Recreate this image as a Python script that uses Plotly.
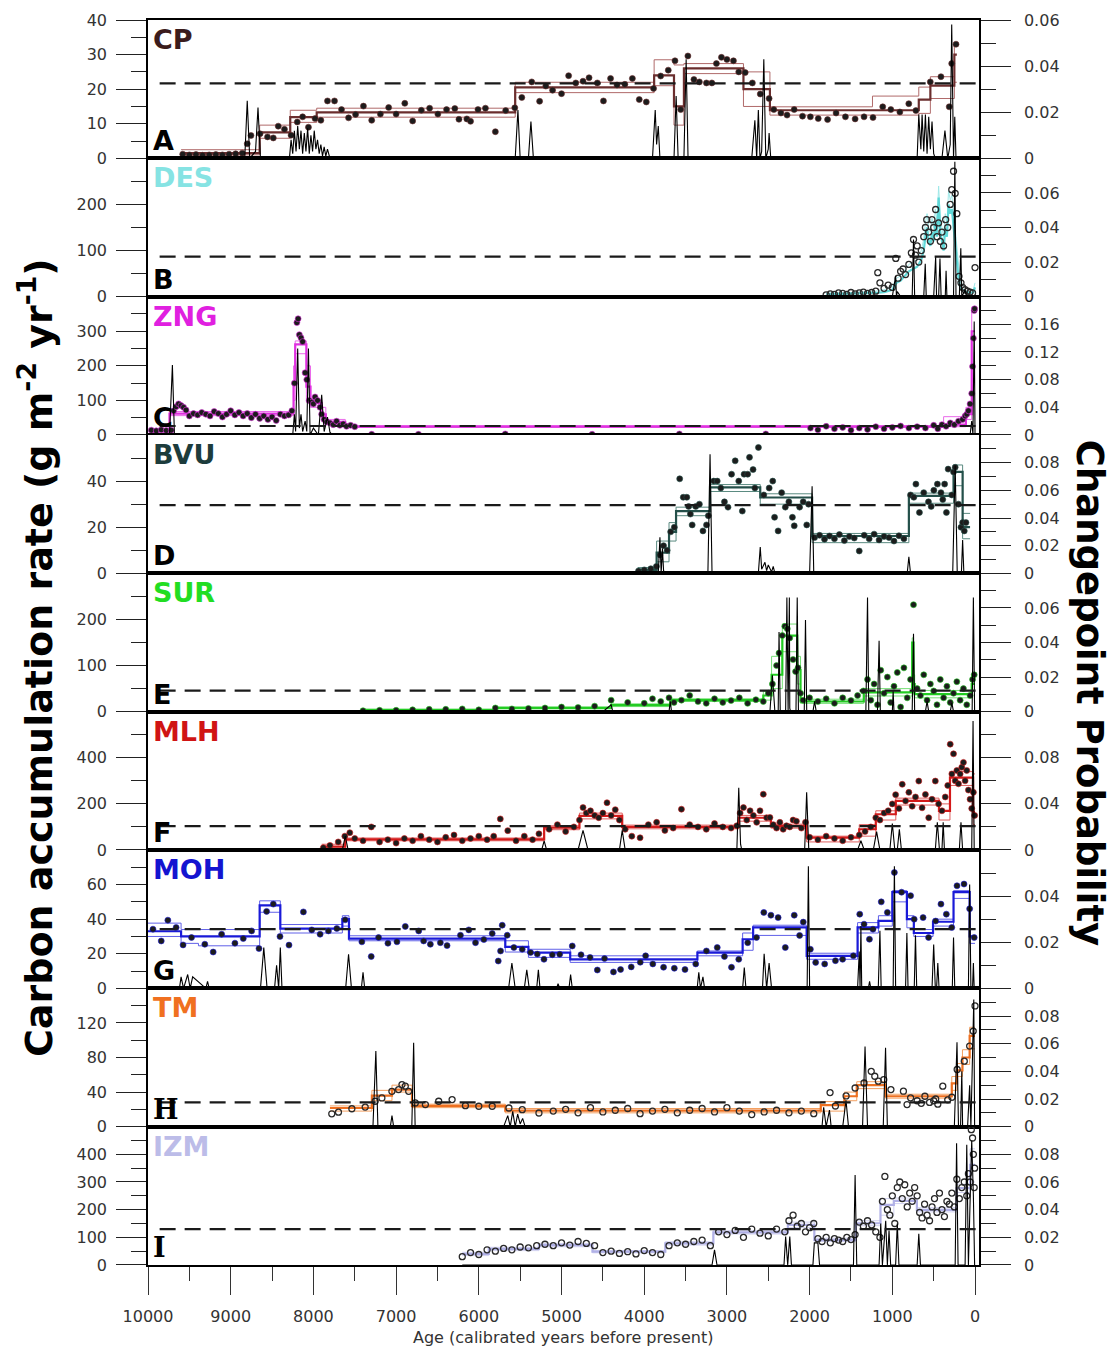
import plotly.graph_objects as go
from plotly.subplots import make_subplots

# ---------------- CP (A) ----------------
CP_age = [9580,9500,9420,9340,9260,9180,9100,9020,8940,8860,8800,8755,8645,8555,8485,8425,8350,8270,8195,8130,8060,7980,7910,7830,7745,7660,7575,7490,7395,7295,7190,7090,7000,6895,6800,6695,6595,6495,6390,6290,6240,6145,6100,6010,5920,5800,5675,5565,5480,5360,5265,5190,
          5108,5000,4914,4827,4740,4667,4567,4493,4407,4329,4234,4143,4060,3975,3887,3801,3709,3628,3559,3472,3399,3333,3248,3182,3127,3066,3000,2921,2857,2779,2692,2597,2490,2433,2347,2273,2187,2086,1991,1896,1783,1680,1567,1450,1342,1234,1116,1018,909,801,715,541,412,312,282,230]
CP_val = [1.2,1.0,1.1,0.9,1.0,1.1,1.0,1.2,1.3,1.5,4.2,6.6,7.1,6.2,5.9,9.3,8.4,6.7,10.5,12.0,9.0,11.5,11.0,16.6,16.6,14.1,11.7,12.7,15.1,11.0,12.8,14.7,12.8,15.9,10.8,13.9,14.5,12.8,14.1,14.4,11.3,11.4,10.7,14.1,14.5,7.7,13.8,14.6,17.6,22.1,16.5,20.9,
          19.7,18.7,23.9,21.8,22.3,23.3,21.8,16.6,23.1,21.2,21.4,23.1,17.0,16.3,20.2,23.8,25.5,28.2,14.1,29.6,22.8,22.1,21.8,21.8,27.4,29.2,28.6,28.2,25.0,24.8,21.8,18.6,17.3,14.1,13.1,12.5,14.1,12.2,12.0,11.5,11.2,13.1,12.0,11.4,12.0,11.8,14.9,14.1,13.4,15.8,13.8,22.1,23.6,14.9,27.4,33.0]
CP_cp = [9600,8650,8280,7960,5560,3880,3640,3520,2800,2480,1240,680,540,250,220]
CP_med = [1.5,7.5,11.9,13.3,20.5,24.0,15.0,26.0,20.0,13.9,13.9,17.0,21.0,30.0]
CP_lo = [1.0,5.8,10.4,11.9,19.0,21.0,9.6,24.5,15.0,12.5,12.5,13.0,17.3,22.0]
CP_hi = [2.5,9.6,13.9,14.5,22.0,28.5,27.0,27.4,25.0,14.9,18.0,20.6,23.6,33.0]
CP_prob_age = [9600,8830,8800,8770,8700,8670,8640,8290,8270,8250,8230,8210,8190,8170,8150,8130,8110,8090,8070,8050,8030,8010,7990,7970,7950,7930,7910,7890,7870,7850,7830,7800,
               5560,5527,5500,5400,5370,5340,3900,3867,3850,3830,3810,3640,3614,3590,3520,3493,3470,2700,2662,2640,2620,2600,2580,2554,2530,2500,2490,2470,
               700,680,655,640,620,600,580,560,540,520,500,480,400,364,330,300,282,260,245,230]
CP_prob = [0,0,0.025,0,0.003,0.022,0,0,0.008,0.002,0.012,0.003,0.014,0.004,0.012,0.002,0.011,0.003,0.013,0.002,0.010,0.003,0.012,0.004,0.008,0.002,0.006,0.001,0.005,0.001,0.004,0,
           0,0.021,0,0,0.016,0,0,0.021,0.006,0.014,0,0,0.027,0,0,0.043,0,0,0.0165,0,0.021,0,0.003,0.043,0,0.004,0.011,0,
           0,0.019,0.004,0.019,0.003,0.019,0.002,0.018,0.004,0.016,0.002,0,0,0.012,0,0.006,0.058,0,0.018,0]
CP_mean = 21.7

# ---------------- DES (B) ----------------
DES_age = [1800,1750,1700,1650,1600,1550,1500,1450,1400,1350,1300,1250,1200,1176,1150,1100,1050,1000,958,930,900,870,840,800,770,744,720,700,680,650,
           620,600,584,560,540,520,500,476,460,441,420,400,380,355,330,300,281,260,240,220,194,170,150,120,90,60,30,0]
DES_val = [4,6,5,8,7,5,9,6,8,10,7,9,12,52,30,18,25,20,83,40,55,60,48,70,95,124,90,110,75,100,
           130,150,167,140,120,167,150,189,130,160,120,140,110,167,150,200,232,272,224,180,44,30,20,15,12,10,8,63]
DES_line_age = [1800,1500,1200,1100,1000,950,900,850,800,750,700,650,620,600,580,560,540,520,500,480,460,440,420,400,380,360,340,320,300,280,260,240,220,200,180,150,100,50,20,0]
DES_line = [5,6,8,10,15,30,35,45,55,60,65,80,100,130,150,120,110,140,120,160,130,215,140,120,100,150,130,200,180,190,150,110,80,40,20,15,10,8,10,20]
DES_line_hi = [8,9,12,15,22,40,45,58,70,75,80,100,125,160,180,150,140,170,150,190,160,240,170,150,130,180,160,230,210,220,180,140,110,60,35,25,18,14,16,30]
DES_prob_age = [1800,1000,960,950,940,900,760,744,730,620,602,590,500,476,465,440,424,410,360,350,340,260,244,230,190,172,160,120,100,60]
DES_prob = [0,0,0.012,0,0.003,0,0,0.033,0,0,0.019,0,0,0.023,0,0,0.022,0,0,0.015,0,0,0.078,0,0,0.028,0,0.004,0,0]
DES_mean = 87

# ---------------- ZNG (C) ----------------
ZNG_age = [9960,9900,9840,9780,9720,9690,9660,9630,9600,9570,9540,9500,9450,9400,9350,9300,9250,9200,9150,9100,9050,9000,8950,8900,8850,
           8800,8750,8700,8650,8600,8550,8500,8450,8400,8350,8300,8260,8230,8200,8185,8170,8150,8130,8100,8080,8050,8020,8000,7980,7950,7920,7900,7870,7840,7800,
           7760,7720,7680,7640,7600,7550,7500,7295,6730,5680,4630,3575,2530,1990,1900,1800,1700,1600,1500,1400,1300,1200,1100,1000,900,800,700,600,500,450,
           400,350,300,250,200,150,120,100,80,60,40,30,20,10,5]
ZNG_val = [14,12,15,13,14,70,82,90,85,80,72,55,62,58,65,60,55,68,62,52,60,70,58,65,55,
           62,50,60,48,55,45,52,42,60,55,58,70,150,325,336,290,281,270,180,160,100,95,90,110,100,80,60,45,38,35,
           30,40,28,32,25,28,24,2,2,3,2,3,3,20,15,25,18,22,14,20,16,24,18,22,26,20,24,20,28,18,
           30,25,35,30,40,45,55,60,70,90,120,198,280,360,365]
ZNG_cp = [9980,9740,8240,8220,8085,8035,7900,7850,7615,380,110,40,0]
ZNG_med = [12,62,150,262,140,92,60,38,24,30,60,300]
ZNG_lo = [8,56,100,235,95,80,40,32,22,24,45,200]
ZNG_hi = [16,68,200,272,200,100,80,45,27,53,80,370]
ZNG_prob_age = [9980,9740,9705,9680,8250,8230,8215,8190,8170,8150,8130,8100,8080,8060,8040,8000,7940,7900,7870,7830,7800,7770,7600,60,40,25,10,0]
ZNG_prob = [0,0,0.101,0,0,0.03,0.005,0.125,0.01,0.03,0.005,0.02,0.005,0.125,0,0.01,0,0.058,0.005,0.026,0.004,0,0,0,0.02,0,0.164,0]
ZNG_mean = 26

# ---------------- BVU (D) ----------------
BVU_age = [4069,4000,3920,3853,3810,3766,3723,3680,3636,3571,3528,3485,3463,3442,3420,3377,3333,3290,3247,3225,
           3160,3117,3074,3030,2987,2944,2900,2857,2814,2792,2749,2727,2684,2662,2619,2554,2489,2446,2424,2381,
           2338,2294,2251,2208,2186,2121,2078,2035,2013,1940,1880,1820,1760,1700,1640,1580,1520,1460,1400,1340,
           1280,1220,1160,1100,1040,980,920,860,780,740,715,672,620,563,530,498,455,412,390,368,
           346,325,281,260,240,200,170,150,130,110]
BVU_val = [1,1.5,2,3,8,12,10,18,20,41,33,33,29,25.7,21,29,30,18.4,21,25,
           40,40,37,31,28.7,43,48.8,40,27,43,43,50.3,45,37,54.6,34,37,40,24.3,18.4,
           35,28.7,31,24.3,20.6,28.7,31,21,30,15.5,16.5,14.8,16.2,15,16.8,14.2,16,15.3,9.7,16.5,
           15,17,14.5,16,15.5,14,16.3,15,34,33,38.7,26.4,35,31,29,36,38.7,35,32,38.7,
           26.4,45.2,34,44,46,30,20,22,18.4,22]
BVU_cp = [4080,3850,3700,3615,3204,2597,1970,800,260,150,60]
BVU_med = [1.5,9,18,27,37.3,32.9,16.2,33.6,44,20]
BVU_lo = [0.8,5,14,25,35.5,30,13.3,30.4,38,15]
BVU_hi = [2.5,14,22,28.7,38.5,34.5,17.3,34.8,47,26]
BVU_prob_age = [4080,3830,3810,3795,3780,3766,3750,3230,3204,3180,2620,2597,2580,2540,2520,2500,2460,2440,2420,2000,
                1970,1950,820,800,780,270,240,215,165,150,135,60]
BVU_prob = [0,0,0.026,0,0.018,0.002,0,0,0.086,0,0,0.019,0.003,0.008,0.002,0.006,0.001,0.005,0,0,
            0.063,0,0,0.012,0,0,0.078,0,0,0.024,0,0]
BVU_mean = 29.6

# ---------------- SUR (E) ----------------
SUR_age = [7400,7200,7000,6800,6600,6400,6200,6000,5800,5600,5400,5200,
           5000,4800,4600,4400,4200,4000,3900,3800,3700,3640,
           3550,3450,3350,3250,3150,3050,2950,2850,2750,2650,
           2560,2500,2450,2400,2370,2330,2300,2270,2240,2200,
           2170,2140,2110,2080,2000,1900,1800,1700,1600,1500,
           1420,1350,1300,1260,1220,1180,1140,1100,1060,1020,
           980,940,900,860,820,780,744,700,660,620,
           580,540,500,460,420,380,340,300,260,220,
           180,140,100,60,30,10]
SUR_val = [2,3,3,4,5,5,6,4,8,6,7,8,
           10,9,12,25,20,18,28,22,30,20,
           25,35,22,18,28,20,24,30,18,26,
           22,40,60,100,127,165,185,180,160,113,
           87,95,40,25,30,22,28,18,30,24,
           35,45,70,25,60,15,90,40,75,20,
           55,85,10,95,30,70,232,50,35,80,
           25,60,45,15,70,30,55,20,40,65,
           25,50,15,35,70,80]
SUR_cp = [7420,5800,4400,3685,2560,2460,2330,2150,2110,1345,760,744,730,40,0]
SUR_med = [4,8,14,25,35,80,165,90,22,42,150,60,38,60]
SUR_lo = [3,6,11,22,25,50,130,60,18,34,60,40,30,45]
SUR_hi = [5,10,17,28,45,120,190,120,27,50,160,80,46,80]
SUR_prob_age = [7400,4500,4400,4380,3700,3685,3670,2480,2450,2420,2380,2370,2355,2290,2275,2260,2245,2240,2230,2165,
                2150,2135,2065,2050,2035,1960,1940,1920,1320,1300,1285,1180,1160,1145,1000,990,980,760,744,730,
                600,580,560,300,280,260,35,20,5]
SUR_prob = [0,0,0.004,0,0,0.006,0,0,0.021,0,0,0.046,0,0,0.066,0,0.066,0.002,0,0,
            0.066,0,0,0.053,0,0,0.006,0,0,0.066,0,0,0.041,0,0,0.012,0,0,0.045,0,
            0,0.006,0,0,0.005,0,0,0.066,0]
SUR_mean = 45.6

# ---------------- MLH (F) ----------------
MLH_age = [7880,7800,7700,7620,7560,7500,7400,7300,7200,7100,7000,6900,6800,6700,6600,6500,6400,6300,6200,6100,
           6000,5900,5820,5740,5650,5550,5450,5350,5273,
           5150,5050,4950,4850,4783,4740,4700,4650,4600,4550,4500,4450,4400,4350,4300,
           4230,4150,4050,3950,3850,3750,3650,3550,3450,3350,3250,3150,3050,2950,2880,
           2840,2800,2760,2720,2680,2640,2600,2560,2520,2480,
           2440,2400,2360,2320,2280,2240,2200,2160,2100,2050,
           2000,1900,1800,1700,1600,1500,1400,1330,1260,1200,1150,1100,
           1050,1000,960,920,880,840,800,760,720,680,640,600,560,520,480,440,400,
           360,330,300,280,260,240,220,200,180,160,140,120,100,80,60,40,20,5]
MLH_val = [10,20,35,60,75,50,40,100,35,45,30,50,40,60,45,35,55,65,40,50,
           60,45,60,135,84,40,60,45,70,
           90,110,80,100,130,184,160,170,150,140,160,205,150,175,130,
           90,60,53,110,120,85,95,177,110,100,90,115,100,95,105,
           160,184,130,170,150,120,170,242,140,141,
           110,95,120,90,105,100,130,125,95,120,
           55,45,60,50,40,55,65,80,100,140,130,160,
           170,200,240,180,285,213,250,190,230,299,183,241,140,220,299,200,170,
           230,280,459,330,417,300,345,287,330,359,380,300,345,260,220,180,250,150]
MLH_cp = [7900,7615,5210,4783,4266,2857,2468,2036,1400,1200,958,436,303,24,0]
MLH_med = [15,46,97,148,100,140,104,54,90,155,213,170,314,165]
MLH_lo = [8,40,88,135,92,125,95,35,60,130,195,130,280,110]
MLH_hi = [25,52,105,160,108,150,112,60,110,170,225,200,340,330]
MLH_prob_age = [7900,7650,7615,7580,5240,5210,5180,4800,4740,4680,4300,4266,4230,2880,2857,2835,2820,2060,2036,2010,
                1420,1380,1340,1230,1190,1150,1030,1000,970,940,915,890,480,456,430,400,385,370,190,170,
                150,40,24,10]
MLH_prob = [0,0,0.012,0,0,0.008,0,0,0.017,0,0,0.017,0,0,0.054,0.005,0,0,0.050,0,
            0,0.008,0,0,0.016,0,0,0.023,0,0,0.018,0,0,0.024,0,0,0.024,0,0,0.024,
            0,0,0.112,0]
MLH_mean = 104

# ---------------- MOH (G) ----------------
MOH_age = [9940,9840,9760,9660,9576,9474,9313,9212,9110,8949,8848,8747,8658,8566,8485,8404,8295,8121,8020,7919,
           7818,7717,7616,7414,7301,7212,7099,6990,6889,6727,6667,6586,6465,6384,6222,6121,6040,5939,5838,5765,
           5737,5717,5656,5576,5475,5374,5293,5212,5111,5022,4870,4764,4655,4567,4480,4372,4286,4157,4048,3983,
           3896,3766,3636,3507,3377,3248,3117,3030,2945,2857,2749,2642,2554,2468,2381,2294,2186,2121,2077,1991,
           1927,1818,1688,1601,1471,1394,1342,1277,1234,1134,1060,975,888,779,736,628,562,476,412,347,
           281,218,133,65,10]
MOH_val = [34.2,27.4,39.4,35.2,25.1,29.4,25.5,21.0,31.3,26.1,28.8,33.2,23.0,44.5,48.7,30.0,25.0,44.2,33.8,31.3,
           33.2,34.6,39.6,26.9,18.4,29.4,26.1,26.9,35.8,33.2,27.4,25.5,26.4,24.7,30.7,33.8,26.4,28.2,31.7,15.8,
           21.6,36.5,30.7,23.6,22.6,20.7,19.8,16.8,19.4,19.7,24.5,19.4,17.9,10.6,17.2,9.5,10.9,12.4,15.1,18.8,
           14.1,12.2,11.6,10.9,14.1,21.6,23.6,18.4,12.2,16.8,26.4,29.4,43.9,42.3,40.9,23.6,42.3,30.6,38.3,22.6,
           15.0,14.1,16.0,16.8,18.8,42.9,37.1,28.4,34.2,50.0,43.9,67.0,55.6,53.6,40.0,40.9,29.4,38.9,48.7,42.9,
           35.2,59.3,60.3,46.0,29.4]
MOH_cp = [10000,9600,9390,8650,8400,7650,7570,5680,5400,4895,3357,2810,2683,2036,1420,1168,1000,824,740,508,260,65,0]
MOH_med = [33,30,30,48,34.5,40,28.8,24,20.7,16.8,20.7,28.4,35.2,18.8,35.2,39,55.6,40,32,38.5,55.6,30]
MOH_lo = [30,26,24.6,44,32,36,27.5,21,17.9,15,18.8,22,30.6,16.8,32,36,50,35,30,36,52,26]
MOH_hi = [37.7,34,34,50.6,36.9,42,30.4,27.5,22.6,18.8,21.6,32,36.5,20.3,38,42,56.5,42,34,40,56.5,34]
MOH_prob_age = [10000,9620,9600,9570,9520,9490,9460,9300,9280,9260,8640,8600,8560,8470,8445,8420,8400,8380,7610,7575,
                7540,7420,7400,7380,5640,5600,5560,5450,5420,5390,5300,5280,5260,5060,5042,5020,4910,4890,4870,3360,
                3340,3320,3290,3270,2810,2790,2770,2570,2550,2520,2490,2460,2030,2015,2000,1420,1400,1390,1380,1370,
                1350,1290,1275,1260,1170,1150,1135,990,975,960,840,824,810,735,720,705,520,500,480,465,
                450,435,275,260,245,80,65,50,30,20,10]
MOH_prob = [0,0,0.005,0,0.006,0,0.005,0,0.003,0,0,0.0177,0,0,0.010,0,0.0177,0,0,0.0148,
            0,0,0.007,0,0,0.011,0,0,0.008,0,0,0.008,0,0,0.002,0,0,0.006,0,0,
            0.007,0,0.005,0,0,0.009,0,0,0.015,0,0.011,0,0,0.053,0,0,0.016,0,0.027,0,
            0,0,0.003,0,0,0.025,0,0,0.053,0,0,0.024,0,0,0.023,0,0,0.019,0,0,
            0.011,0,0,0.022,0,0,0.045,0,0,0.011,0]
MOH_mean = 34.2

# ---------------- TM (H) ----------------
TM_age = [7778,7697,7535,7374,7253,7172,7051,6970,6929,6889,6848,6768,6646,6485,6323,6162,6000,5838,5636,5475,
          5273,5100,4950,4800,4650,4500,4350,4200,4050,3900,3750,3600,3450,3300,3150,3000,2850,2700,2550,2400,
          2250,2100,1950,1753,1688,1559,1450,1342,1255,1212,1169,1104,1017,866,822,779,700,650,606,550,
          500,476,450,390,330,280,216,130,65,22,0]
TM_val = [14.9,16.8,20.7,22.6,29.4,33.2,40.9,42.9,48.7,46.8,40.9,27.4,25.5,29.4,31.3,24.3,23.6,23.6,21.6,19.7,
          15.8,18,20,16,22,17,19,21,15,18,20,16,19,21,17,22,18,14,17,19,
          16,18,15,39.4,23.9,35.5,44.7,50.5,64,58.3,52.6,54.4,42.9,41.0,25.6,33.3,30,27,35.2,28,
          30,32,26,46.8,31,34,66.1,75.8,93.2,110.6,139.6]
TM_cp = [7800,7293,7050,6808,5680,1865,1580,1430,1082,281,218,152,65,0]
TM_med = [21.6,36,42.9,24,18.5,25,35.2,48,35.2,50,65,80,105]
TM_lo = [18,30,40,22,16,18,30,44,33,42,58,72,90]
TM_hi = [24,42,48,26,21,29,40,52,37.5,58,73,89,115]
TM_prob_age = [7800,7280,7245,7220,7070,7050,7030,6810,6788,6770,5700,5650,5620,5590,5560,5530,5500,5470,5440,1850,
               1830,1800,1760,1740,1600,1560,1530,1360,1330,1300,1110,1082,1060,250,218,200,175,160,150,90,
               65,50,15,5]
TM_prob = [0,0,0.0546,0,0,0.008,0,0,0.0606,0,0,0.008,0,0.011,0,0.009,0.002,0.006,0,0,
           0.014,0,0.012,0,0,0.019,0,0,0.058,0,0,0.057,0,0,0.061,0,0,0.04,0,0,
           0.03,0,0.092,0]
TM_mean = 28

# ---------------- IZM (I) ----------------
IZM_age = [6200,6100,6000,5900,5800,5700,5600,5500,5400,5300,5200,5100,5000,4900,4800,4700,4600,4500,4400,4300,
           4200,4100,4000,3900,3800,3700,3600,3500,3400,3300,3200,3100,3000,2900,2800,2700,2600,2500,2400,2300,
           2250,2200,2150,2100,2050,2000,1950,1900,1850,1800,1750,1700,1650,1600,1550,1500,1450,1400,1350,1300,
           1250,1200,1150,1120,1090,1060,1030,1000,970,940,910,880,850,820,790,760,730,700,670,640,
           610,580,550,520,490,460,430,400,370,340,310,280,250,220,190,160,130,100,80,60,
           45,30,20,10,5]
IZM_val = [30,45,38,55,50,60,55,65,62,70,75,70,80,72,85,78,70,45,50,42,
           48,40,52,45,38,70,80,75,85,90,70,120,110,125,100,130,115,105,130,120,
           160,180,140,150,120,135,150,95,85,100,80,95,90,85,100,92,110,155,140,160,
           145,120,100,230,320,200,180,250,150,280,300,240,290,210,260,230,280,250,190,170,
           220,180,160,210,240,190,260,200,175,230,220,260,210,310,240,280,300,250,330,300,
           489,459,400,280,350]
IZM_cp = [6200,5879,5273,4626,3745,3164,2263,1943,1442,1143,982,703,223,60,0]
IZM_med = [40,58,72,48,78,118,145,91,151,217,232,199,278,362]
IZM_lo = [34,52,66,44,72,112,135,85,142,180,222,192,262,300]
IZM_hi = [46,64,78,52,84,124,155,97,160,240,242,207,292,420]
IZM_prob_age = [6200,3180,3150,3120,2310,2290,2265,2240,2220,1960,1943,1900,1880,1470,1450,1430,1160,1140,1120,1080,
                1060,1040,1020,960,940,920,700,680,660,240,223,205,120,100,80,40,20,5]
IZM_prob = [0,0,0.011,0,0,0.0205,0,0.0205,0,0,0.016,0.016,0,0,0.065,0,0,0.03,0,0.032,
            0,0.025,0,0,0.03,0,0,0.0225,0,0,0.088,0,0,0.087,0,0.09,0.05,0]
IZM_mean = 130

AGE_TICKS = [10000,9000,8000,7000,6000,5000,4000,3000,2000,1000,0]
AGE_LABELS = ["10000","9000","8000","7000","6000","5000","4000","3000","2000","1000","0"]
AGE_MINOR = [9500,8500,7500,6500,5500,4500,3500,2500,1500,500]

panels = [
    dict(name="CP", letter="A", color="#3b1c1c", line="#6b2e2e", band="#b06a6a",
         age=CP_age, val=CP_val, cp=CP_cp, med=CP_med, lo=CP_lo, hi=CP_hi, page=CP_prob_age, prob=CP_prob, mean=CP_mean,
         ymax=40, yt=[0,10,20,30,40], ym=[5,15,25,35], pmax=0.06, pt=[0,0.02,0.04,0.06], pm=[0.01,0.03,0.05], openm=False),
    dict(name="DES", letter="B", color="#86e3e3", line="#5fd8d8", band="#9fe8e8",
         age=DES_age, val=DES_val, cp=None, page=DES_prob_age, prob=DES_prob, mean=DES_mean,
         ymax=300, yt=[0,100,200], ym=[50,150,250], pmax=0.08, pt=[0,0.02,0.04,0.06], pm=[0.01,0.03,0.05,0.07], openm=True),
    dict(name="ZNG", letter="C", color="#e020e0", line="#e030e0", band="#ea6aea",
         age=ZNG_age, val=ZNG_val, cp=ZNG_cp, med=ZNG_med, lo=ZNG_lo, hi=ZNG_hi, page=ZNG_prob_age, prob=ZNG_prob, mean=ZNG_mean,
         ymax=400, yt=[0,100,200,300], ym=[50,150,250,350], pmax=0.2, pt=[0,0.04,0.08,0.12,0.16], pm=[0.02,0.06,0.10,0.14,0.18], openm=False),
    dict(name="BVU", letter="D", color="#1d3c3c", line="#24504a", band="#5a8a80",
         age=BVU_age, val=BVU_val, cp=BVU_cp, med=BVU_med, lo=BVU_lo, hi=BVU_hi, page=BVU_prob_age, prob=BVU_prob, mean=BVU_mean,
         ymax=60, yt=[0,20,40], ym=[10,30,50], pmax=0.1, pt=[0,0.02,0.04,0.06,0.08], pm=[0.01,0.03,0.05,0.07,0.09], openm=False),
    dict(name="SUR", letter="E", color="#22dd22", line="#22cc22", band="#77e077",
         age=SUR_age, val=SUR_val, cp=SUR_cp, med=SUR_med, lo=SUR_lo, hi=SUR_hi, page=SUR_prob_age, prob=SUR_prob, mean=SUR_mean,
         ymax=300, yt=[0,100,200], ym=[50,150,250], pmax=0.08, pt=[0,0.02,0.04,0.06], pm=[0.01,0.03,0.05,0.07], openm=False),
    dict(name="MLH", letter="F", color="#d01414", line="#d41a1a", band="#e06060",
         age=MLH_age, val=MLH_val, cp=MLH_cp, med=MLH_med, lo=MLH_lo, hi=MLH_hi, page=MLH_prob_age, prob=MLH_prob, mean=MLH_mean,
         ymax=600, yt=[0,200,400], ym=[100,300,500], pmax=0.12, pt=[0,0.04,0.08], pm=[0.02,0.06,0.10], openm=False),
    dict(name="MOH", letter="G", color="#1414d0", line="#1a1ad8", band="#6060e8",
         age=MOH_age, val=MOH_val, cp=MOH_cp, med=MOH_med, lo=MOH_lo, hi=MOH_hi, page=MOH_prob_age, prob=MOH_prob, mean=MOH_mean,
         ymax=80, yt=[0,20,40,60], ym=[10,30,50,70], pmax=0.06, pt=[0,0.02,0.04], pm=[0.01,0.03,0.05], openm=False),
    dict(name="TM", letter="H", color="#f07020", line="#ee7020", band="#f4a060",
         age=TM_age, val=TM_val, cp=TM_cp, med=TM_med, lo=TM_lo, hi=TM_hi, page=TM_prob_age, prob=TM_prob, mean=TM_mean,
         ymax=160, yt=[0,40,80,120], ym=[20,60,100,140], pmax=0.1, pt=[0,0.02,0.04,0.06,0.08], pm=[0.01,0.03,0.05,0.07,0.09], openm=True),
    dict(name="IZM", letter="I", color="#bcbce8", line="#b0b0e6", band="#d0d0f0",
         age=IZM_age, val=IZM_val, cp=IZM_cp, med=IZM_med, lo=IZM_lo, hi=IZM_hi, page=IZM_prob_age, prob=IZM_prob, mean=IZM_mean,
         ymax=500, yt=[0,100,200,300,400], ym=[50,150,250,350,450], pmax=0.1, pt=[0,0.02,0.04,0.06,0.08], pm=[0.01,0.03,0.05,0.07,0.09], openm=True),
]

FONT = "DejaVu Sans"
N = len(panels)
fig = make_subplots(rows=N, cols=1, shared_xaxes=True, vertical_spacing=0,
                    specs=[[{"secondary_y": True}] for _ in range(N)])

for i, p in enumerate(panels):
    r = i + 1
    if p["cp"] is not None:
        sx = list(p["cp"])
        for key, w, c in (("hi", 1, p["band"]), ("lo", 1, p["band"]), ("med", 2.2, p["line"])):
            fig.add_trace(go.Scatter(x=sx, y=list(p[key]) + [p[key][-1]], mode="lines", line_shape="hv",
                                     line=dict(color=c, width=w), hoverinfo="skip", showlegend=False),
                          row=r, col=1, secondary_y=False)
    else:
        fig.add_trace(go.Scatter(x=DES_line_age, y=DES_line_hi, mode="lines",
                                 line=dict(color=p["band"], width=1), showlegend=False), row=r, col=1, secondary_y=False)
        fig.add_trace(go.Scatter(x=DES_line_age, y=DES_line, mode="lines",
                                 line=dict(color=p["line"], width=2.2), showlegend=False), row=r, col=1, secondary_y=False)
    if p["openm"]:
        marker = dict(symbol="circle-open", size=6, color="#2a2a2a", line=dict(width=1.3, color="#2a2a2a"))
    else:
        marker = dict(symbol="circle", size=6, color="#1c1c1c", line=dict(width=0.6, color=p["line"]))
    fig.add_trace(go.Scatter(x=p["age"], y=p["val"], mode="markers", marker=marker, showlegend=False),
                  row=r, col=1, secondary_y=False)
    fig.add_trace(go.Scatter(x=p["page"], y=p["prob"], mode="lines", line=dict(color="black", width=1.1),
                             showlegend=False), row=r, col=1, secondary_y=True)

    yid = "y" if r == 1 else f"y{2*r-1}"
    xid = "x" if r == 1 else f"x{r}"
    fig.add_shape(type="line", xref=f"{xid} domain", x0=0.014, x1=1.0, yref=yid, y0=p["mean"], y1=p["mean"],
                  line=dict(color="#1a1a1a", width=2.2, dash="16px,9px"))
    fig.add_annotation(text=f"<b>{p['name']}</b>", xref=f"{xid} domain", yref=f"{yid} domain", x=0.004, y=0.985,
                       xanchor="left", yanchor="top", showarrow=False,
                       font=dict(family=FONT, size=27, color=p["color"]))
    lf = "DejaVu Serif" if p["letter"] in ("H", "I") else FONT
    fig.add_annotation(text=f"<b>{p['letter']}</b>", xref=f"{xid} domain", yref=f"{yid} domain", x=0.004, y=0.0,
                       xanchor="left", yanchor="bottom", showarrow=False,
                       font=dict(family=lf, size=27, color="black"))

    fig.update_yaxes(row=r, col=1, secondary_y=False, range=[0, p["ymax"]], tickmode="array", tickvals=p["yt"],
                     ticks="outside", ticklen=30, tickwidth=1.3, tickcolor="#222", showgrid=False, zeroline=False,
                     showline=True, linecolor="black", linewidth=1.5, ticklabelstandoff=6, automargin=False,
                     tickfont=dict(family=FONT, size=16, color="#333"),
                     minor=dict(tickmode="array", tickvals=p["ym"], ticks="outside", ticklen=15, tickwidth=1.3, tickcolor="#222"))
    fig.update_yaxes(row=r, col=1, secondary_y=True, range=[0, p["pmax"]], tickmode="array", tickvals=p["pt"],
                     ticktext=[("0" if v == 0 else f"{v:g}") for v in p["pt"]],
                     ticks="outside", ticklen=30, tickwidth=1.3, tickcolor="#222", showgrid=False, zeroline=False,
                     showline=True, linecolor="black", linewidth=1.5, ticklabelstandoff=10, automargin=False,
                     tickfont=dict(family=FONT, size=16, color="#333"),
                     minor=dict(tickmode="array", tickvals=p["pm"], ticks="outside", ticklen=15, tickwidth=1.3, tickcolor="#222"))
    xkw = dict(domain=[0, 1], range=[10000, -48], showgrid=False, zeroline=False, showline=True, mirror=True,
               linecolor="black", linewidth=1.5, automargin=False)
    if r == N:
        xkw.update(tickmode="array", tickvals=AGE_TICKS, ticktext=AGE_LABELS, ticks="outside", ticklen=28, tickwidth=1.3,
                   tickcolor="#333", ticklabelstandoff=8, tickfont=dict(family=FONT, size=16, color="#333"),
                   showticklabels=True,
                   minor=dict(tickmode="array", tickvals=AGE_MINOR, ticks="outside", ticklen=14, tickwidth=1.3, tickcolor="#333"))
    else:
        xkw.update(ticks="", showticklabels=False)
    fig.update_xaxes(row=r, col=1, **xkw)

fig.add_annotation(text="<b>Carbon accumulation rate (g m<sup>-2</sup> yr<sup>-1</sup>)</b>", xref="paper", yref="paper",
                   x=-0.134, y=0.488, xanchor="center", yanchor="middle", textangle=-90, showarrow=False,
                   font=dict(family=FONT, size=38, color="black"))
fig.add_annotation(text="<b>Changepoint Probability</b>", xref="paper", yref="paper",
                   x=1.133, y=0.460, xanchor="center", yanchor="middle", textangle=90, showarrow=False,
                   font=dict(family=FONT, size=37, color="black"))
fig.add_annotation(text="Age (calibrated years before present)", xref="paper", yref="paper",
                   x=0.4994, y=-0.058, xanchor="center", yanchor="middle", showarrow=False,
                   font=dict(family=FONT, size=16, color="#333"))

fig.update_layout(width=1115, height=1352, margin=dict(l=140, r=144, t=12, b=95, autoexpand=False),
                  paper_bgcolor="white", plot_bgcolor="white", showlegend=False,
                  font=dict(family=FONT, size=16, color="#333"))

fig.write_html("out.html")
